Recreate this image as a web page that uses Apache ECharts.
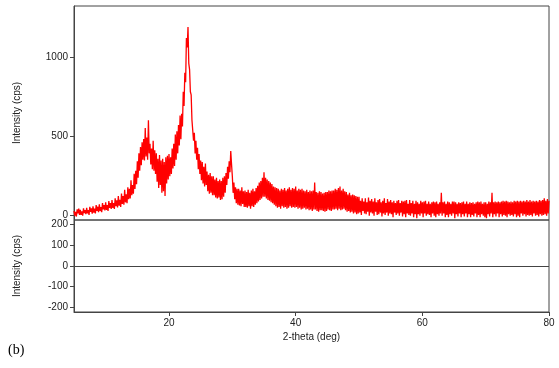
<!DOCTYPE html>
<html>
<head>
<meta charset="utf-8">
<script src="https://cdn.jsdelivr.net/npm/echarts@6/dist/echarts.min.js"></script>
<style>
  html, body { margin: 0; padding: 0; background: #fff; }
  #chart { width: 559px; height: 368px; }
</style>
</head>
<body>
<div id="chart"></div>
<script>
// 2-theta sampling of the scan
var thetaStart = 5;
var thetaStep = 0.125;

// measured intensity (cps), 8 values per degree from 5 to 80 deg
var intensity = [
  25, -5, 20, -10, 35, 10, 40, 0,        // 5
  32, 0, 22, -5, 42, 12, 30, 5,          // 6
  45, 10, 30, 0, 52, 20, 42, 8,          // 7
  55, 15, 40, 10, 62, 25, 52, 18,        // 8
  68, 25, 50, 18, 75, 35, 62, 28,        // 9
  80, 32, 62, 25, 88, 45, 75, 38,        // 10
  95, 45, 75, 38, 105, 55, 92, 48,       // 11
  120, 58, 95, 50, 135, 70, 120, 65,     // 12
  160, 80, 130, 75, 175, 100, 165, 105,  // 13
  220, 125, 190, 135, 260, 165, 280, 195,// 14
  340, 235, 390, 280, 430, 315, 460, 350,// 15
  480, 345, 550, 370, 490, 350, 600, 390,// 16
  450, 320, 420, 290, 470, 280, 410, 260,// 17
  390, 210, 355, 170, 380, 190, 345, 140,// 18
  355, 150, 335, 120, 365, 200, 375, 225,// 19
  385, 245, 365, 260, 420, 295, 450, 310,// 20
  510, 350, 530, 390, 570, 440, 630, 480,// 21
  640, 560, 780, 690, 900, 840, 1120, 1060, // 22
  1190, 960, 920, 780, 760, 600, 600, 470,  // 23
  520, 390, 470, 350, 425, 290, 385, 260,// 24
  345, 220, 335, 200, 305, 180, 325, 190,// 25
  275, 150, 255, 135, 265, 140, 245, 125,// 26
  245, 125, 225, 110, 235, 105, 215, 110,// 27
  225, 95, 215, 100, 235, 115, 245, 140, // 28
  265, 190, 305, 230, 340, 270, 405, 320,// 29
  245, 140, 205, 100, 175, 75, 165, 65,  // 30
  165, 60, 155, 55, 175, 70, 150, 50,    // 31
  155, 50, 145, 45, 160, 55, 140, 40,    // 32
  155, 55, 165, 50, 150, 65, 170, 75,    // 33
  185, 85, 205, 95, 215, 105, 235, 115,  // 34
  270, 115, 235, 105, 225, 95, 215, 90,  // 35
  205, 80, 195, 75, 180, 65, 175, 55,    // 36
  170, 45, 165, 50, 155, 40, 165, 55,    // 37
  160, 45, 170, 50, 155, 40, 165, 45,    // 38
  175, 55, 160, 45, 170, 50, 165, 45,    // 39
  180, 50, 155, 40, 165, 45, 160, 35,    // 40
  165, 40, 155, 45, 150, 35, 160, 40,    // 41
  145, 30, 155, 35, 150, 25, 155, 35,    // 42
  205, 35, 145, 25, 140, 20, 150, 30,    // 43
  145, 30, 135, 25, 140, 20, 145, 25,    // 44
  145, 35, 155, 30, 150, 25, 155, 35,    // 45
  155, 35, 165, 40, 160, 30, 170, 40,    // 46
  180, 30, 155, 35, 165, 40, 150, 30,    // 47
  145, 20, 130, 25, 140, 15, 125, 20,    // 48
  130, 10, 125, 15, 120, 5, 115, 10,     // 49
  115, 15, 90, 0, 105, 25, 85, 10,       // 50
  105, 5, 80, 20, 110, -5, 90, 15,       // 51
  100, 10, 85, -5, 105, 20, 80, 0,       // 52
  95, 5, 100, 15, 80, -10, 90, 10,       // 53
  105, 0, 75, 15, 100, -5, 85, 10,       // 54
  95, 5, 80, -15, 90, 15, 75, 0,         // 55
  90, 10, 95, -5, 75, 15, 90, -10,       // 56
  85, 5, 90, -15, 95, 10, 70, 0,         // 57
  95, -5, 75, 10, 90, -15, 70, 5,        // 58
  90, -20, 80, 5, 70, -5, 90, 10,        // 59
  80, -15, 85, 10, 90, -5, 70, 5,        // 60
  85, 0, 70, -15, 80, 10, 85, -5,        // 61
  80, -15, 85, 5, 70, -5, 80, 10,        // 62
  140, -5, 80, 10, 85, -15, 70, 0,       // 63
  85, -15, 80, 5, 70, -5, 85, 10,        // 64
  85, -20, 80, 5, 70, -10, 80, 10,       // 65
  75, -15, 80, 5, 85, -10, 70, 10,       // 66
  85, -15, 70, 5, 80, -15, 75, 0,        // 67
  80, -10, 70, 10, 80, -15, 85, 0,       // 68
  80, -15, 85, 5, 70, -5, 80, -15,       // 69
  80, -20, 70, 5, 85, -10, 80, 10,       // 70
  140, -15, 80, 5, 85, -10, 80, 10,      // 71
  85, -15, 80, 5, 85, -10, 90, 0,        // 72
  85, -5, 90, -15, 85, 5, 80, -5,        // 73
  85, 0, 80, -10, 90, 5, 85, -15,        // 74
  90, -5, 85, -15, 90, 10, 85, -5,       // 75
  90, 5, 85, -10, 95, 0, 85, -5,         // 76
  95, 0, 85, -10, 90, 10, 85, -5,        // 77
  90, 0, 85, -10, 95, 5, 90, -5,         // 78
  95, 0, 105, 5, 90, -5, 100, 10,        // 79
  90                                     // 80
];

var residualLevel = 0;

var xTicks = [20, 40, 60, 80];
var yTicksTop = [0, 500, 1000];
var yTicksBottom = [-200, -100, 0, 100, 200];

var pattern = intensity.map(function (v, i) {
  return [thetaStart + i * thetaStep, v];
});

var axisColor = '#444';
var textColor = '#222';
var font = 'Liberation Sans, Arial, sans-serif';
var plain = function (v) { return String(v); };

var myChart = echarts.init(document.getElementById('chart'));
myChart.setOption({
  animation: false,
  grid: [
    { left: 74, top: 6, width: 475, height: 214, show: true, borderColor: axisColor, borderWidth: 1 },
    { left: 74, top: 220, width: 475, height: 92, show: true, borderColor: axisColor, borderWidth: 1 }
  ],
  xAxis: [
    {
      gridIndex: 0, type: 'value', min: 5, max: 80,
      axisLine: { show: false }, axisTick: { show: false },
      axisLabel: { show: false }, splitLine: { show: false }
    },
    {
      gridIndex: 1, type: 'value', min: 5, max: 80,
      name: '2-theta (deg)', nameLocation: 'middle', nameGap: 20,
      nameTextStyle: { color: textColor, fontSize: 10, fontFamily: font },
      axisLine: { show: true, onZero: false, lineStyle: { color: axisColor, width: 1 } },
      axisTick: { show: true, length: 4, customValues: xTicks, lineStyle: { color: axisColor } },
      axisLabel: { customValues: xTicks, formatter: plain, margin: 6, color: textColor, fontSize: 10, fontFamily: font },
      splitLine: { show: false }
    }
  ],
  yAxis: [
    {
      gridIndex: 0, type: 'value', min: -32, max: 1323,
      name: 'Intensity (cps)', nameLocation: 'middle', nameGap: 52, nameRotate: 90,
      nameTextStyle: { color: textColor, fontSize: 10, fontFamily: font },
      axisLine: { show: true, onZero: false, lineStyle: { color: axisColor, width: 1 } },
      axisTick: { show: true, length: 4, customValues: yTicksTop, lineStyle: { color: axisColor } },
      axisLabel: { customValues: yTicksTop, formatter: plain, margin: 6, color: textColor, fontSize: 10, fontFamily: font },
      splitLine: { show: false }
    },
    {
      gridIndex: 1, type: 'value', min: -223, max: 223,
      name: 'Intensity (cps)', nameLocation: 'middle', nameGap: 52, nameRotate: 90,
      nameTextStyle: { color: textColor, fontSize: 10, fontFamily: font },
      axisLine: { show: true, onZero: false, lineStyle: { color: axisColor, width: 1 } },
      axisTick: { show: true, length: 4, customValues: yTicksBottom, lineStyle: { color: axisColor } },
      axisLabel: { customValues: yTicksBottom, formatter: plain, margin: 6, color: textColor, fontSize: 10, fontFamily: font },
      splitLine: { show: false }
    }
  ],
  series: [
    {
      type: 'line', xAxisIndex: 0, yAxisIndex: 0,
      data: pattern, showSymbol: false, clip: true,
      lineStyle: { color: '#ff0000', width: 1.3 }
    },
    {
      type: 'line', xAxisIndex: 1, yAxisIndex: 1, data: [],
      markLine: {
        silent: true, symbol: 'none', label: { show: false },
        lineStyle: { color: axisColor, type: 'solid', width: 1 },
        data: [{ yAxis: residualLevel }]
      }
    }
  ],
  graphic: [
    { type: 'text', left: 8, top: 343, style: { text: '(b)', font: '14px "Liberation Serif", "Times New Roman", serif', fill: '#000' } }
  ]
});
</script>
</body>
</html>
